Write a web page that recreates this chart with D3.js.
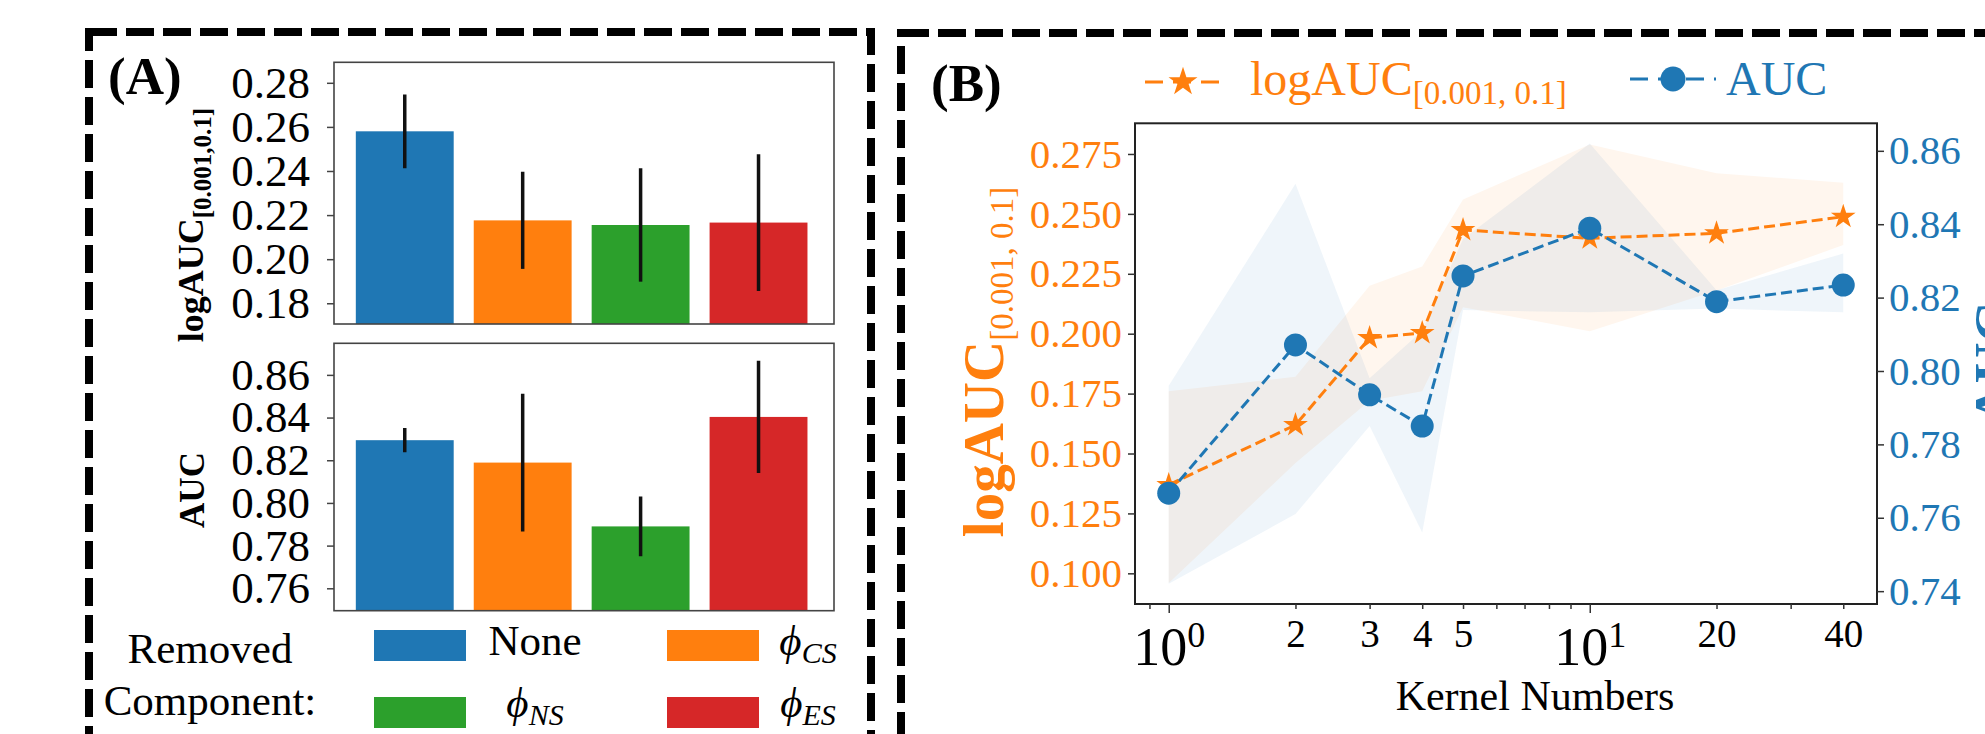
<!DOCTYPE html>
<html>
<head>
<meta charset="utf-8">
<script src="https://cdn.jsdelivr.net/npm/d3@7"></script>
<style>
  body { margin: 0; background: #fff; }
  svg { display: block; font-family: "Liberation Serif", "Times New Roman", serif; }
</style>
</head>
<body>
<div id="chart"></div>
<script>
// ---------- data ----------
// (A) ablation: removed component
const components = ["None", "CS", "NS", "ES"];
const logaucMean = [0.258, 0.2176, 0.2155, 0.2166];
const logaucErr  = [0.0167, 0.022, 0.0257, 0.031];
const aucMean    = [0.8294, 0.8189, 0.789, 0.8403];
const aucErr     = [0.0057, 0.0323, 0.014, 0.0263];
const logaucTicksA = [0.18, 0.20, 0.22, 0.24, 0.26, 0.28];
const aucTicksA    = [0.76, 0.78, 0.80, 0.82, 0.84, 0.86];

// (B) kernel numbers
const kernels    = [1, 2, 3, 4, 5, 10, 20, 40];
const logaucLine = [0.1369, 0.1619, 0.1982, 0.2003, 0.2433, 0.2398, 0.2419, 0.2488];
const logaucLow  = [0.096, 0.146, 0.172, 0.176, 0.211, 0.201, 0.218, 0.237];
const logaucHigh = [0.176, 0.182, 0.220, 0.228, 0.256, 0.279, 0.267, 0.263];
const aucLine    = [0.7667, 0.8071, 0.7935, 0.7850, 0.8259, 0.8389, 0.8189, 0.8234];
const aucLow     = [0.742, 0.761, 0.785, 0.756, 0.8166, 0.816, 0.817, 0.816];
const aucHigh    = [0.796, 0.851, 0.798, 0.811, 0.836, 0.862, 0.822, 0.832];
const logaucTicksB = [0.100, 0.125, 0.150, 0.175, 0.200, 0.225, 0.250, 0.275];
const aucTicksB    = [0.74, 0.76, 0.78, 0.80, 0.82, 0.84, 0.86];
const kernelLabelTicks = [1, 2, 3, 4, 5, 10, 20, 40];
const kernelMinorTicks = [0.9, 6, 7, 8, 9, 30];

// ---------- setup ----------
const W = 1985, H = 734;
const blue = "#1f77b4", orange = "#ff7f0e", green = "#2ca02c", red = "#d62728";
const barColors = [blue, orange, green, red];

const svg = d3.select("#chart").append("svg")
    .attr("width", W)
    .attr("height", H);

svg.append("rect").attr("width", W).attr("height", H).attr("fill", "#fff");

// dashed panel boxes
svg.append("rect")
    .attr("x", 89).attr("y", 32).attr("width", 782).attr("height", 800)
    .attr("fill", "none").attr("stroke", "#000")
    .attr("stroke-width", 8).attr("stroke-dasharray", "28,9");
svg.append("rect")
    .attr("x", 901).attr("y", 33).attr("width", 1200).attr("height", 800)
    .attr("fill", "none").attr("stroke", "#000")
    .attr("stroke-width", 8).attr("stroke-dasharray", "28,9");

// panel letters
svg.append("text").attr("x", 108).attr("y", 94)
    .attr("font-size", 53).attr("font-weight", "bold").text("(A)");
svg.append("text").attr("x", 931).attr("y", 101)
    .attr("font-size", 53).attr("font-weight", "bold").text("(B)");

// ---------- panel A ----------
const xBar = d3.scaleLinear().domain([-0.6, 3.64]).range([334, 834]);
const barW = 0.83;

function barPanel(top, bottom, domain, means, errs, ticks, id) {
    let y = d3.scaleLinear().domain(domain).range([bottom, top]);
    let g = svg.append("g");

    g.append("clipPath").attr("id", id)
        .append("rect")
        .attr("x", xBar.range()[0]).attr("y", top)
        .attr("width", xBar.range()[1] - xBar.range()[0]).attr("height", bottom - top);

    let plot = g.append("g").attr("clip-path", `url(#${id})`);

    plot.selectAll(".bar")
        .data(means)
        .enter()
        .append("rect")
        .attr("class", "bar")
        .attr("x", (d, i) => xBar(i - barW / 2))
        .attr("width", xBar(barW) - xBar(0))
        .attr("y", d => y(d))
        .attr("height", d => bottom - y(d))
        .attr("fill", (d, i) => barColors[i]);

    plot.selectAll(".err")
        .data(means)
        .enter()
        .append("line")
        .attr("class", "err")
        .attr("x1", (d, i) => xBar(i))
        .attr("x2", (d, i) => xBar(i))
        .attr("y1", (d, i) => y(d - errs[i]))
        .attr("y2", (d, i) => y(d + errs[i]))
        .attr("stroke", "#111")
        .attr("stroke-width", 3.5);

    // frame
    g.append("rect")
        .attr("x", xBar.range()[0]).attr("y", top)
        .attr("width", xBar.range()[1] - xBar.range()[0]).attr("height", bottom - top)
        .attr("fill", "none").attr("stroke", "#444").attr("stroke-width", 1.6);

    let ax = g.append("g")
        .attr("transform", `translate(${xBar.range()[0]},0)`)
        .call(d3.axisLeft(y).tickValues(ticks).tickFormat(d3.format(".2f"))
            .tickSize(7).tickPadding(17));
    ax.select(".domain").remove();
    ax.selectAll(".tick line").attr("stroke", "#444").attr("stroke-width", 1.5);
    ax.selectAll("text")
        .attr("font-family", "Liberation Serif, serif")
        .attr("font-size", 45)
        .attr("fill", "#000");
    return y;
}

barPanel(62.3, 324, [0.1706, 0.2893], logaucMean, logaucErr, logaucTicksA, "clipTop");
barPanel(343.3, 610.7, [0.7495, 0.8748], aucMean, aucErr, aucTicksA, "clipBottom");

// y labels of panel A
let ylA1 = svg.append("text")
    .attr("transform", "translate(203,225) rotate(-90)")
    .attr("text-anchor", "middle")
    .attr("font-weight", "bold");
ylA1.append("tspan").attr("font-size", 36).text("logAUC");
ylA1.append("tspan").attr("font-size", 25).attr("dy", 8).text("[0.001,0.1]");

svg.append("text")
    .attr("transform", "translate(204,490) rotate(-90)")
    .attr("text-anchor", "middle")
    .attr("font-weight", "bold")
    .attr("font-size", 35)
    .text("AUC");

// legend of panel A
svg.append("text").attr("x", 210).attr("y", 663)
    .attr("text-anchor", "middle").attr("font-size", 43).text("Removed");
svg.append("text").attr("x", 210).attr("y", 715)
    .attr("text-anchor", "middle").attr("font-size", 43).text("Component:");

const legCol = [374, 667];
const legRow = [630, 697];
const legTextX = [535, 808];
const legTextY = [655, 717];

let legA = svg.selectAll(".legA")
    .data(components)
    .enter()
    .append("g")
    .attr("class", "legA");

legA.append("rect")
    .attr("x", (d, i) => legCol[i % 2])
    .attr("y", (d, i) => legRow[Math.floor(i / 2)])
    .attr("width", 92)
    .attr("height", 31)
    .attr("fill", (d, i) => barColors[i]);

legA.append("text")
    .attr("x", (d, i) => legTextX[i % 2])
    .attr("y", (d, i) => legTextY[Math.floor(i / 2)])
    .attr("text-anchor", "middle")
    .attr("font-size", 43)
    .each(function(d) {
        let t = d3.select(this);
        if (d === "None") {
            t.text(d);
        } else {
            t.append("tspan").attr("font-style", "italic").text("\u03D5");
            t.append("tspan").attr("font-style", "italic").attr("font-size", 30)
                .attr("dy", 8).text(d);
        }
    });

// ---------- panel B ----------
const bLeft = 1135, bRight = 1877, bTop = 123.3, bBottom = 604;
const bx  = d3.scaleLog().domain([Math.pow(10, -0.0801), Math.pow(10, 1.6822)]).range([bLeft, bRight]);
const byL = d3.scaleLinear().domain([0.0872, 0.2878]).range([bBottom, bTop]);
const byR = d3.scaleLinear().domain([0.7365, 0.8675]).range([bBottom, bTop]);

const orangeData = kernels.map((k, i) => ({k: k, v: logaucLine[i], lo: logaucLow[i], hi: logaucHigh[i]}));
const blueData   = kernels.map((k, i) => ({k: k, v: aucLine[i], lo: aucLow[i], hi: aucHigh[i]}));

svg.append("clipPath").attr("id", "clipB")
    .append("rect")
    .attr("x", bLeft).attr("y", bTop)
    .attr("width", bRight - bLeft).attr("height", bBottom - bTop);

let plotB = svg.append("g").attr("clip-path", "url(#clipB)");

// bands
plotB.append("path")
    .datum(orangeData)
    .attr("d", d3.area().x(d => bx(d.k)).y0(d => byL(d.lo)).y1(d => byL(d.hi)))
    .attr("fill", orange).attr("fill-opacity", 0.07);
plotB.append("path")
    .datum(blueData)
    .attr("d", d3.area().x(d => bx(d.k)).y0(d => byR(d.lo)).y1(d => byR(d.hi)))
    .attr("fill", blue).attr("fill-opacity", 0.07);

// orange line + stars
plotB.append("path")
    .datum(orangeData)
    .attr("d", d3.line().x(d => bx(d.k)).y(d => byL(d.v)))
    .attr("fill", "none").attr("stroke", orange)
    .attr("stroke-width", 3).attr("stroke-dasharray", "11,5");
plotB.selectAll(".star")
    .data(orangeData)
    .enter()
    .append("path")
    .attr("class", "star")
    .attr("d", d3.symbol(d3.symbolStar, 190))
    .attr("transform", d => `translate(${bx(d.k)},${byL(d.v)})`)
    .attr("fill", orange);

// blue line + circles
plotB.append("path")
    .datum(blueData)
    .attr("d", d3.line().x(d => bx(d.k)).y(d => byR(d.v)))
    .attr("fill", "none").attr("stroke", blue)
    .attr("stroke-width", 3).attr("stroke-dasharray", "11,5");
plotB.selectAll(".dot")
    .data(blueData)
    .enter()
    .append("circle")
    .attr("class", "dot")
    .attr("cx", d => bx(d.k))
    .attr("cy", d => byR(d.v))
    .attr("r", 11.5)
    .attr("fill", blue);

// frame
svg.append("rect")
    .attr("x", bLeft).attr("y", bTop)
    .attr("width", bRight - bLeft).attr("height", bBottom - bTop)
    .attr("fill", "none").attr("stroke", "#222").attr("stroke-width", 2);

// left axis (orange)
let axL = svg.append("g")
    .attr("transform", `translate(${bLeft},0)`)
    .call(d3.axisLeft(byL).tickValues(logaucTicksB).tickFormat(d3.format(".3f"))
        .tickSize(7).tickPadding(6));
axL.select(".domain").remove();
axL.selectAll(".tick line").attr("stroke", "#333").attr("stroke-width", 1.5);
axL.selectAll("text")
    .attr("font-family", "Liberation Serif, serif")
    .attr("font-size", 41).attr("fill", orange);

// right axis (blue)
let axR = svg.append("g")
    .attr("transform", `translate(${bRight},0)`)
    .call(d3.axisRight(byR).tickValues(aucTicksB).tickFormat(d3.format(".2f"))
        .tickSize(7).tickPadding(5));
axR.select(".domain").remove();
axR.selectAll(".tick line").attr("stroke", "#333").attr("stroke-width", 1.5);
axR.selectAll("text")
    .attr("font-family", "Liberation Serif, serif")
    .attr("font-size", 41).attr("fill", blue);

// bottom axis (log)
let axMinor = svg.append("g")
    .attr("transform", `translate(0,${bBottom})`)
    .call(d3.axisBottom(bx).tickValues(kernelMinorTicks).tickFormat("").tickSize(5));
axMinor.select(".domain").remove();
axMinor.selectAll(".tick line").attr("stroke", "#333").attr("stroke-width", 1.5);

let axB = svg.append("g")
    .attr("transform", `translate(0,${bBottom})`)
    .call(d3.axisBottom(bx).tickValues(kernelLabelTicks).tickFormat(d => d).tickSize(5));
axB.select(".domain").remove();
const isMajor = d => Math.abs(Math.log10(d) - Math.round(Math.log10(d))) < 1e-9;
axB.selectAll(".tick line")
    .attr("stroke", "#333").attr("stroke-width", 1.5)
    .attr("y2", d => isMajor(d) ? 9 : 5);
axB.selectAll(".tick text")
    .attr("font-family", "Liberation Serif, serif")
    .attr("fill", "#000")
    .attr("dy", null)
    .each(function(d) {
        let t = d3.select(this);
        if (isMajor(d)) {
            t.text("").attr("y", 61).attr("font-size", 54);
            t.append("tspan").text("10");
            t.append("tspan").attr("font-size", 36).attr("dy", -18)
                .text(Math.round(Math.log10(d)));
        } else {
            t.attr("y", 43).attr("font-size", 39);
        }
    });

svg.append("text")
    .attr("x", 1535).attr("y", 710)
    .attr("text-anchor", "middle").attr("font-size", 42)
    .text("Kernel Numbers");

// y labels of panel B
let ylB = svg.append("text")
    .attr("transform", "translate(1003,362) rotate(-90)")
    .attr("text-anchor", "middle")
    .attr("fill", orange);
ylB.append("tspan").attr("font-weight", "bold").attr("font-size", 57).text("logAUC");
ylB.append("tspan").attr("font-size", 33).attr("dy", 10).text("[0.001, 0.1]");

svg.append("text")
    .attr("transform", "translate(2014,363) rotate(-90)")
    .attr("text-anchor", "middle")
    .attr("font-weight", "bold")
    .attr("font-size", 57)
    .attr("fill", blue)
    .text("AUC");

// legend of panel B
let legB = svg.append("g");
legB.append("line")
    .attr("x1", 1145).attr("x2", 1221).attr("y1", 82).attr("y2", 82)
    .attr("stroke", orange).attr("stroke-width", 3).attr("stroke-dasharray", "18,10");
legB.append("path")
    .attr("d", d3.symbol(d3.symbolStar, 260))
    .attr("transform", "translate(1183,82)")
    .attr("fill", orange);
let legT = legB.append("text").attr("x", 1250).attr("y", 95).attr("fill", orange);
legT.append("tspan").attr("font-size", 48).text("logAUC");
legT.append("tspan").attr("font-size", 33).attr("dy", 9).text("[0.001, 0.1]");

legB.append("line")
    .attr("x1", 1630).attr("x2", 1716).attr("y1", 79).attr("y2", 79)
    .attr("stroke", blue).attr("stroke-width", 3).attr("stroke-dasharray", "18,10");
legB.append("circle")
    .attr("cx", 1673).attr("cy", 79).attr("r", 12.5)
    .attr("fill", blue);
legB.append("text").attr("x", 1726).attr("y", 95)
    .attr("font-size", 48).attr("fill", blue).text("AUC");
</script>
</body>
</html>
